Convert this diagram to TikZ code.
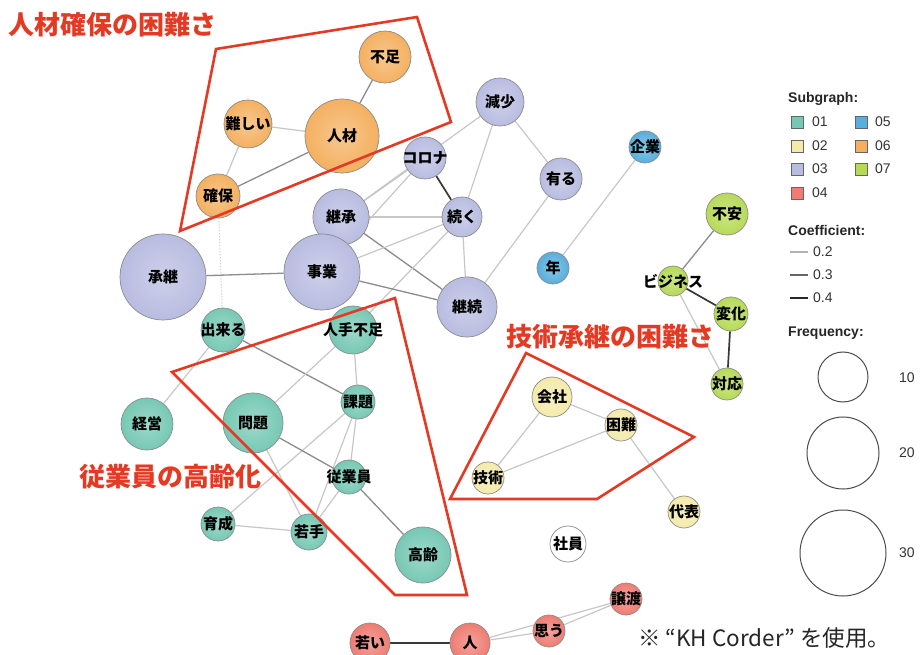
\documentclass[tikz,border=0pt]{standalone}
\usepackage{fontspec}
\setmainfont{Liberation Sans}
\newfontfamily\cjk{Noto Sans CJK JP}
\pgfdeclarelayer{bg}
\pgfdeclarelayer{fg}
\pgfsetlayers{bg,main,fg}
\definecolor{cA}{RGB}{118,200,180}
\definecolor{cB}{RGB}{244,234,170}
\definecolor{cC}{RGB}{184,188,224}
\definecolor{cD}{RGB}{238,124,114}
\definecolor{cE}{RGB}{88,174,220}
\definecolor{cF}{RGB}{244,176,96}
\definecolor{cG}{RGB}{182,218,86}
\definecolor{hullred}{RGB}{228,58,36}
\tikzset{
  kw/.style={circle, draw=black!45, line width=0.7pt, inner sep=0pt},
  kwlab/.style={font=\cjk\bfseries\fontsize{15}{15}\selectfont, text=black, inner sep=0pt},
  elight/.style={draw=black!22, line width=1.2pt},
  emid/.style={draw=black!45, line width=1.3pt},
  edark/.style={draw=black!78, line width=1.7pt},
  hull/.style={draw=hullred, line width=2.6pt, line join=miter},
  ttl/.style={text=hullred, font=\cjk\bfseries\fontsize{26}{26}\selectfont, anchor=west, inner sep=0pt},
  legh/.style={font=\bfseries\fontsize{14}{14}\selectfont, anchor=west, inner sep=0pt, text=black!85},
  legt/.style={font=\fontsize{14}{14}\selectfont, anchor=west, inner sep=0pt, text=black!80},
  legsq/.style={draw=black!60, line width=0.8pt, minimum size=12pt, inner sep=0pt},
  fcirc/.style={circle, draw=black!70, line width=1pt, inner sep=0pt},
}
\newcommand\kwn[6]{\node[kw, shading=radial, inner color=#5!70!white, outer color=#5, minimum size={2*#4pt}] (#1) at (#2,#3) {}; \node[kwlab] at (#1) {#6};}
\begin{document}
\begin{tikzpicture}[x=1pt,y=-1pt]
\begin{pgfonlayer}{bg}
\fill[white] (0,0) rectangle (922,655);
\end{pgfonlayer}
\useasboundingbox (0,0) rectangle (922,655);
% orange
\kwn{fusoku}{385}{57}{26}{cF}{不足}
\kwn{jinzai}{342}{136}{37}{cF}{人材}
\kwn{muzu}{248}{124}{24}{cF}{難しい}
\kwn{kakuho}{218}{196}{22}{cF}{確保}
% purple
\kwn{genshou}{500}{102}{24}{cC}{減少}
\kwn{corona}{425}{158}{21}{cC}{コロナ}
\kwn{aru}{561}{179}{21}{cC}{有る}
\kwn{keishoA}{341}{217}{28}{cC}{継承}
\kwn{tsuzuku}{462}{217}{20}{cC}{続く}
\kwn{shoukei}{163}{277}{43}{cC}{承継}
\kwn{jigyou}{322}{272}{38}{cC}{事業}
\kwn{keizoku}{467}{307}{30}{cC}{継続}
% blue
\kwn{kigyou}{645}{147}{16}{cE}{企業}
\kwn{nen}{553}{268}{16}{cE}{年}
% green
\kwn{fuan}{727}{214}{21}{cG}{不安}
\kwn{business}{673}{281}{15}{cG}{}
\node[kwlab] at (business) {ビジネス};
\kwn{henka}{731}{314}{17}{cG}{変化}
\kwn{taiou}{727}{384}{16}{cG}{対応}
% teal
\kwn{dekiru}{223}{330}{22}{cA}{出来る}
\kwn{hitode}{353}{330}{24}{cA}{人手不足}
\kwn{kadai}{358}{402}{17}{cA}{課題}
\kwn{keiei}{147}{424}{26}{cA}{経営}
\kwn{mondai}{253}{423}{30}{cA}{問題}
\kwn{juugyouin}{349}{477}{17}{cA}{従業員}
\kwn{ikusei}{218}{524}{17}{cA}{育成}
\kwn{wakate}{309}{532}{18}{cA}{若手}
\kwn{kourei}{423}{555}{28}{cA}{高齢}
% yellow
\kwn{kaisha}{552}{397}{20}{cB}{会社}
\kwn{konnan}{621}{425}{16}{cB}{困難}
\kwn{gijutsu}{488}{478}{16}{cB}{技術}
\kwn{daihyou}{684}{512}{16}{cB}{代表}
% white
\kwn{shain}{568}{544}{18}{white}{社員}
% red
\kwn{jouto}{626}{599}{16}{cD}{譲渡}
\kwn{omou}{549}{631}{16}{cD}{思う}
\kwn{hito}{470}{643}{20}{cD}{人}
\kwn{wakai}{370}{643}{20}{cD}{若い}
% edges
\begin{pgfonlayer}{bg}
\draw[emid] (fusoku) -- (jinzai);
\draw[elight] (jinzai) -- (muzu);
\draw[emid] (jinzai) -- (kakuho);
\draw[elight] (muzu) -- (kakuho);
\draw[draw=black!25, line width=1pt, dotted] (kakuho) -- (dekiru);
\draw[elight] (genshou) -- (keishoA);
\draw[elight] (genshou) -- (tsuzuku);
\draw[elight] (genshou) -- (aru);
\draw[elight] (aru) -- (keizoku);
\draw[edark] (corona) -- (tsuzuku);
\draw[elight] (corona) -- (keishoA);
\draw[elight] (corona) -- (jigyou);
\draw[elight] (keishoA) -- (tsuzuku);
\draw[emid] (keishoA) -- (keizoku);
\draw[elight] (jigyou) -- (tsuzuku);
\draw[elight] (tsuzuku) -- (keizoku);
\draw[elight] (tsuzuku) -- (hitode);
\draw[emid] (shoukei) -- (jigyou);
\draw[emid] (jigyou) -- (keizoku);
\draw[elight] (kigyou) -- (nen);
\draw[emid] (fuan) -- (business);
\draw[edark] (business) -- (henka);
\draw[edark] (henka) -- (taiou);
\draw[elight] (business) -- (taiou);
\draw[elight] (dekiru) -- (keiei);
\draw[emid] (dekiru) -- (kadai);
\draw[elight] (hitode) -- (kadai);
\draw[elight] (hitode) -- (mondai);
\draw[elight] (kadai) -- (juugyouin);
\draw[elight] (kadai) -- (wakate);
\draw[elight] (kadai) -- (ikusei);
\draw[emid] (mondai) -- (juugyouin);
\draw[elight] (mondai) -- (wakate);
\draw[elight] (juugyouin) -- (wakate);
\draw[emid] (juugyouin) -- (kourei);
\draw[elight] (ikusei) -- (wakate);
\draw[elight] (kaisha) -- (konnan);
\draw[elight] (kaisha) -- (gijutsu);
\draw[elight] (konnan) -- (gijutsu);
\draw[elight] (konnan) -- (daihyou);
\draw[edark] (wakai) -- (hito);
\draw[elight] (hito) -- (omou);
\draw[elight] (hito) -- (jouto);
\draw[elight] (omou) -- (jouto);
\end{pgfonlayer}
% hulls and titles
\begin{pgfonlayer}{fg}
\draw[hull] (216,49) -- (417,17) -- (451,122) -- (180,231) -- cycle;
\draw[hull] (172,372) -- (395,298) -- (467,595) -- (395,595) -- cycle;
\draw[hull] (526,353) -- (694,437) -- (597,499) -- (450,499) -- cycle;
\node[ttl] (t1) at (8,25) {人材確保の困難さ};
\node[ttl] (t2) at (506,337) {技術承継の困難さ};
\node[ttl] (t3) at (79,477) {従業員の高齢化};
\end{pgfonlayer}
% legend
\node[legh] (lsub) at (788,99) {Subgraph:};
\node[legsq, fill=cA] (s1) at (797,122) {}; \node[legt] at (812,122) {01};
\node[legsq, fill=cB] (s2) at (797,146) {}; \node[legt] at (812,146) {02};
\node[legsq, fill=cC] (s3) at (797,169) {}; \node[legt] at (812,169) {03};
\node[legsq, fill=cD] (s4) at (797,193) {}; \node[legt] at (812,193) {04};
\node[legsq, fill=cE] (s5) at (861,122) {}; \node[legt] at (875,122) {05};
\node[legsq, fill=cF] (s6) at (861,146) {}; \node[legt] at (875,146) {06};
\node[legsq, fill=cG] (s7) at (861,169) {}; \node[legt] at (875,169) {07};
\node[legh] (lcoef) at (788,230) {Coefficient:};
\coordinate (c2a) at (790,252); \coordinate (c2b) at (808,252);
\coordinate (c3a) at (790,275); \coordinate (c3b) at (808,275);
\coordinate (c4a) at (790,298); \coordinate (c4b) at (808,298);
\draw[draw=black!30, line width=1.2pt] (c2a) -- (c2b);
\draw[draw=black!60, line width=1.5pt] (c3a) -- (c3b);
\draw[draw=black!85, line width=1.8pt] (c4a) -- (c4b);
\node[legt] at (813,252) {0.2};
\node[legt] at (813,275) {0.3};
\node[legt] at (813,298) {0.4};
\node[legh] (lfreq) at (788,333) {Frequency:};
\node[fcirc, minimum size=50pt] (f1) at (843,377) {};
\node[fcirc, minimum size=72pt] (f2) at (843,453) {};
\node[fcirc, minimum size=86pt] (f3) at (843,553) {};
\node[legt] at (899,378) {10};
\node[legt] at (899,453) {20};
\node[legt] at (899,553) {30};
\node[font=\cjk\fontsize{22.5}{22.5}\selectfont, anchor=west, inner sep=0pt, text=black!85] (note) at (638,638) {※ “KH Corder” を使用。};
\end{tikzpicture}
\end{document}
